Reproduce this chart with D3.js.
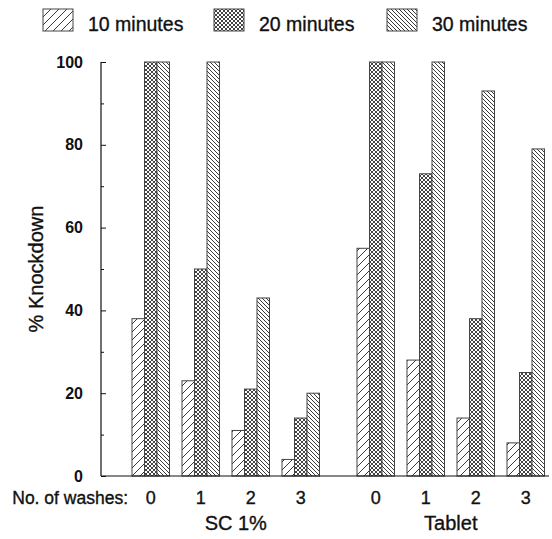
<!DOCTYPE html>
<html>
<head>
<script src="https://d3js.org/d3.v7.min.js"></script>
<style>
  body { margin: 0; background: #fff; }
  text { font-family: "Liberation Sans", Arial, sans-serif; fill: #111; }
  .hv { stroke: #111; stroke-width: 0.35px; }
</style>
</head>
<body>
<script>
// data
var products = ["SC 1%", "Tablet"];
var washes = ["0", "1", "2", "3"];
var series = ["10 minutes", "20 minutes", "30 minutes"];
var sc10 = [38, 23, 11, 4];
var sc20 = [100, 50, 21, 14];
var sc30 = [100, 100, 43, 20];
var tab10 = [55, 28, 14, 8];
var tab20 = [100, 73, 38, 25];
var tab30 = [100, 100, 93, 79];
var yTicks = [0, 20, 40, 60, 80, 100];
var yMinor = [10, 30, 50, 70, 90];

var W = 552, H = 539;
var svg = d3.select("body").append("svg").attr("width", W).attr("height", H);

// hatch patterns
var defs = svg.append("defs");
var p1 = defs.append("pattern").attr("id", "p10").attr("patternUnits", "userSpaceOnUse")
  .attr("width", 8).attr("height", 8);
p1.append("rect").attr("width", 8).attr("height", 8).attr("fill", "#fff");
p1.append("path").attr("d", "M-2,2 L2,-2 M0,8 L8,0 M6,10 L10,6").attr("stroke", "#222").attr("stroke-width", 0.9);

var p2 = defs.append("pattern").attr("id", "p20").attr("patternUnits", "userSpaceOnUse")
  .attr("width", 4).attr("height", 4);
p2.append("rect").attr("width", 4).attr("height", 4).attr("fill", "#fff");
p2.append("path").attr("d", "M-1,1 L1,-1 M0,4 L4,0 M3,5 L5,3 M-1,3 L1,5 M0,0 L4,4 M3,-1 L5,1")
  .attr("stroke", "#222").attr("stroke-width", 0.85);

var p3 = defs.append("pattern").attr("id", "p30").attr("patternUnits", "userSpaceOnUse")
  .attr("width", 4).attr("height", 4);
p3.append("rect").attr("width", 4).attr("height", 4).attr("fill", "#fff");
p3.append("path").attr("d", "M-1,3 L1,5 M0,0 L4,4 M3,-1 L5,1").attr("stroke", "#222").attr("stroke-width", 0.9);
var fills = ["url(#p10)", "url(#p20)", "url(#p30)"];

// scales
var y = d3.scaleLinear().domain([0, 100]).range([476, 62]);
// slot positions: SC groups 0..3, Tablet groups 4.5..7.5
var slot = d3.scaleLinear().domain([0, 1]).range([132, 182]);
var barW = 12.5;
var mid = function(s) { return slot(s) + barW * 1.5; };
var gap = 4.5;

var rows = [];
[[sc10, sc20, sc30], [tab10, tab20, tab30]].forEach(function(grp, pi) {
  washes.forEach(function(w, wi) {
    var s = pi * gap + wi;
    grp.forEach(function(vals, si) {
      rows.push({slot: s, series: si, value: vals[wi]});
    });
  });
});

svg.append("g").selectAll("rect").data(rows).enter().append("rect")
  .attr("x", function(d) { return slot(d.slot) + d.series * barW; })
  .attr("y", function(d) { return y(d.value); })
  .attr("width", barW)
  .attr("height", function(d) { return y(0) - y(d.value); })
  .attr("fill", function(d) { return fills[d.series]; })
  .attr("stroke", "#444").attr("stroke-width", 1);

// y axis
var yAxis = d3.axisLeft(y).tickValues(yTicks).tickSize(-5).tickPadding(18);
var ga = svg.append("g").attr("transform", "translate(101,0)").call(yAxis);
ga.select(".domain").remove();
ga.selectAll("text").style("font-size", "16px").style("font-weight", "bold")
  .style("font-family", "Liberation Sans, Arial, sans-serif");
ga.selectAll("line").attr("stroke", "#111");
svg.append("line").attr("x1", 101).attr("x2", 101).attr("y1", y(100)).attr("y2", y(0))
  .attr("stroke", "#111").attr("stroke-width", 1.2);
var minorAx = d3.axisLeft(y).tickValues(yMinor).tickSize(-3).tickFormat("");
var gm = svg.append("g").attr("transform", "translate(101,0)").call(minorAx);
gm.select(".domain").remove();
gm.selectAll("line").attr("stroke", "#111");

// baseline
svg.append("line").attr("x1", 101).attr("x2", 549).attr("y1", y(0)).attr("y2", y(0))
  .attr("stroke", "#111").attr("stroke-width", 1.2);

// y title
svg.append("text").attr("class", "hv")
  .attr("transform", "translate(43," + ((y(0) + y(100)) / 2) + ") rotate(-90)")
  .attr("text-anchor", "middle").style("font-size", "20px").text("% Knockdown");

// x labels
svg.append("text").attr("class", "hv").attr("x", 128).attr("y", 504).attr("text-anchor", "end")
  .style("font-size", "17.5px").text("No. of washes:");
var xl = [];
products.forEach(function(p, pi) {
  washes.forEach(function(w, wi) { xl.push({s: pi * gap + wi, t: w}); });
});
svg.append("g").selectAll("text").data(xl).enter().append("text").attr("class", "hv")
  .attr("x", function(d) { return mid(d.s); }).attr("y", 504)
  .attr("text-anchor", "middle").style("font-size", "18px")
  .text(function(d) { return d.t; });
var prodOff = [1.7, 1.5];
svg.append("g").selectAll("text").data(products).enter().append("text").attr("class", "hv")
  .attr("x", function(d, i) { return mid(i * gap + prodOff[i]); }).attr("y", 530)
  .attr("text-anchor", "middle").style("font-size", "20px")
  .text(function(d) { return d; });

// legend
var legX = [43, 214, 387];
var lg = svg.append("g").selectAll("g").data(series).enter().append("g")
  .attr("transform", function(d, i) { return "translate(" + legX[i] + ",9)"; });
lg.append("rect").attr("width", 30).attr("height", 22)
  .attr("fill", function(d, i) { return fills[i]; }).attr("stroke", "#444");
lg.append("text").attr("class", "hv").attr("x", 45).attr("y", 22)
  .style("font-size", "19.5px").text(function(d) { return d; });
</script>
</body>
</html>
